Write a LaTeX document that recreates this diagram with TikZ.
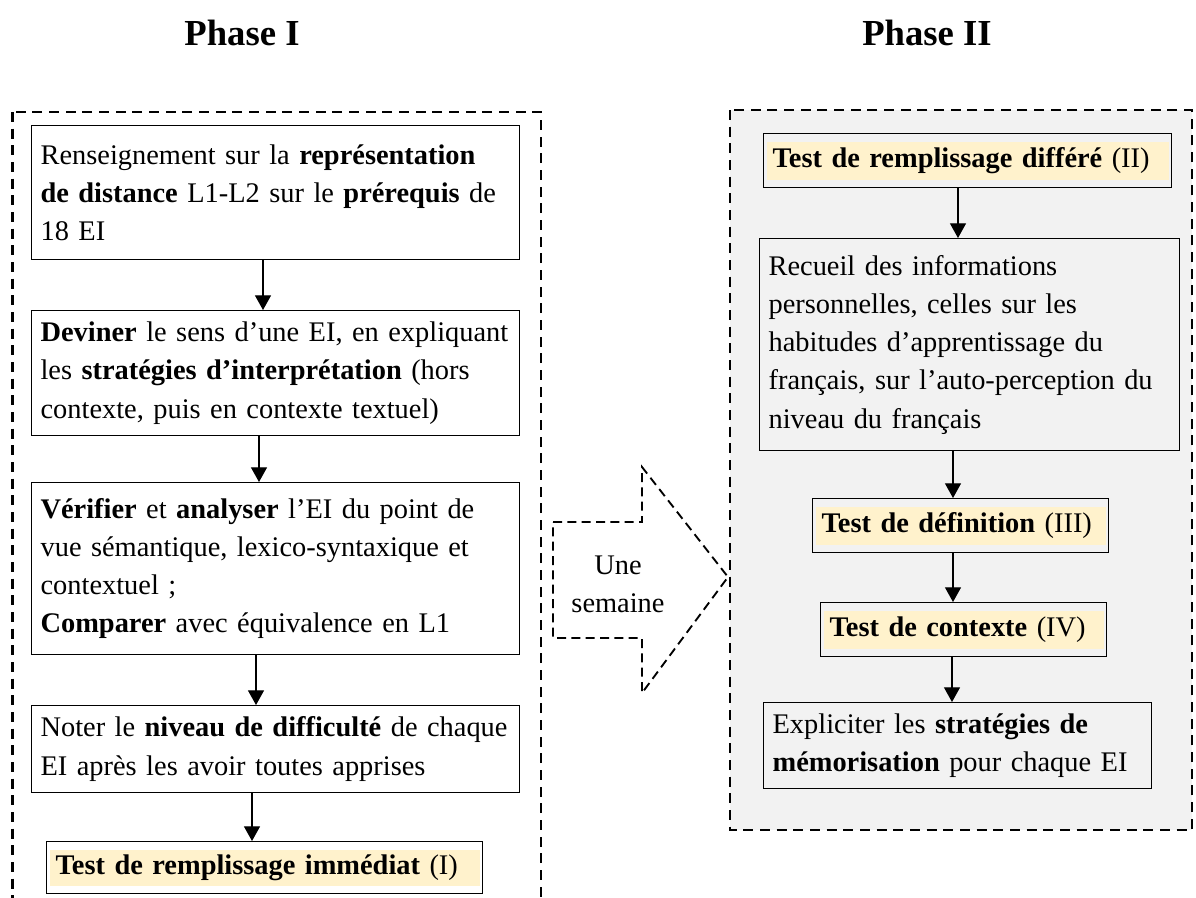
\documentclass[tikz,border=0pt]{standalone}
\usepackage{fontspec}
\setmainfont{Liberation Serif}
\usetikzlibrary{arrows.meta}
\definecolor{yel}{HTML}{FFF2CC}
\definecolor{bgg}{HTML}{F2F2F2}
\newcommand\bodyfont{\fontsize{21.3pt}{28.7pt}\selectfont}
\newcommand\titlefont{\fontsize{27.5pt}{33pt}\selectfont\bfseries}
\begin{document}
\begin{tikzpicture}[x=0.75pt,y=-0.75pt,
  box/.style={draw, line width=0.9pt, anchor=north west, align=left, inner xsep=6.75pt, inner ysep=0pt, font=\bodyfont},
  ybox/.style={box, path picture={\fill[yel] ([xshift=2.25pt,yshift=-6pt]path picture bounding box.north west) rectangle ([xshift=-2.25pt,yshift=6pt]path picture bounding box.south east);}},
  arr/.style={line width=0.9pt, -{Triangle[width=12pt,length=11pt]}},
  dbox/.style={line width=1.7pt, dash pattern=on 7.5pt off 5pt},
  adash/.style={line width=1.4pt, dash pattern=on 6.75pt off 4pt},
  title/.style={font=\titlefont, anchor=base}]
\useasboundingbox (0,0) rectangle (1196,897);
% frames
\draw[dbox] (12.5,112) rectangle (541,915);
\draw[dbox, fill=bgg] (730,110) rectangle (1192,830);
% titles
\node[title] (p1) at (242,45) {Phase I};
\node[title] (p2) at (927,45) {Phase II};
% left column
\node[box, text width=352.5pt, minimum height=100.5pt] (b1) at (31,125)
 {\mbox{Renseignement sur la \textbf{représentation}}\\
  \mbox{\textbf{de distance} L1-L2 sur le \textbf{prérequis} de}\\
  \mbox{18 EI}};
\node[box, text width=352.5pt, minimum height=93.75pt] (b2) at (31,310)
 {\mbox{\textbf{Deviner} le sens d’une EI, en expliquant}\\
  \mbox{les \textbf{stratégies d’interprétation} (hors}\\
  \mbox{contexte, puis en contexte textuel)}};
\node[box, text width=352.5pt, minimum height=129pt] (b3) at (31,482)
 {\mbox{\textbf{Vérifier} et \textbf{analyser} l’EI du point de}\\
  \mbox{vue sémantique, lexico-syntaxique et}\\
  \mbox{contextuel ;}\\
  \mbox{\textbf{Comparer} avec équivalence en L1}};
\node[box, text width=352.5pt, minimum height=65.25pt] (b4) at (31,705)
 {\mbox{Noter le \textbf{niveau de difficulté} de chaque}\\
  \mbox{EI après les avoir toutes apprises}};
\node[ybox, text width=313.5pt, minimum height=39pt] (b5) at (46,841)
 {\mbox{\textbf{Test de remplissage immédiat} (I)}};
\coordinate (la1) at (263,0);
\coordinate (la2) at (259,0);
\coordinate (la3) at (256,0);
\coordinate (la4) at (252,0);
\draw[arr] (b1.south -| la1) -- (b2.north -| la1);
\draw[arr] (b2.south -| la2) -- (b3.north -| la2);
\draw[arr] (b3.south -| la3) -- (b4.north -| la3);
\draw[arr] (b4.south -| la4) -- (b5.north -| la4);
% right column
\node[ybox, text width=292.5pt, minimum height=40.5pt] (r1) at (763,133)
 {\mbox{\textbf{Test de remplissage différé} (II)}};
\node[box, text width=301.5pt, minimum height=159pt] (r2) at (759,238)
 {\mbox{Recueil des informations}\\
  \mbox{personnelles, celles sur les}\\
  \mbox{habitudes d’apprentissage du}\\
  \mbox{français, sur l’auto-perception du}\\
  \mbox{niveau du français}};
\node[ybox, text width=208.5pt, minimum height=40.5pt] (r3) at (812,498)
 {\mbox{\textbf{Test de définition} (III)}};
\node[ybox, text width=201pt, minimum height=40.5pt] (r4) at (820,602)
 {\mbox{\textbf{Test de contexte} (IV)}};
\node[box, text width=277.5pt, minimum height=64.5pt] (r5) at (763,702)
 {\mbox{Expliciter les \textbf{stratégies de}}\\
  \mbox{\textbf{mémorisation} pour chaque EI}};
\coordinate (ra1) at (958,0);
\coordinate (ra2) at (953,0);
\coordinate (ra3) at (953,0);
\coordinate (ra4) at (952,0);
\draw[arr] (r1.south -| ra1) -- (r2.north -| ra1);
\draw[arr] (r2.south -| ra2) -- (r3.north -| ra2);
\draw[arr] (r3.south -| ra3) -- (r4.north -| ra3);
\draw[arr] (r4.south -| ra4) -- (r5.north -| ra4);
% big arrow
\draw[adash] (553,522) -- (642,522) -- (642,467) -- (728,577) -- (642,693) -- (642,638) -- (553,638) -- cycle;
\node[font=\bodyfont, align=center, inner sep=0pt] (wk) at (618,584) {Une\\semaine};
\end{tikzpicture}
\end{document}
